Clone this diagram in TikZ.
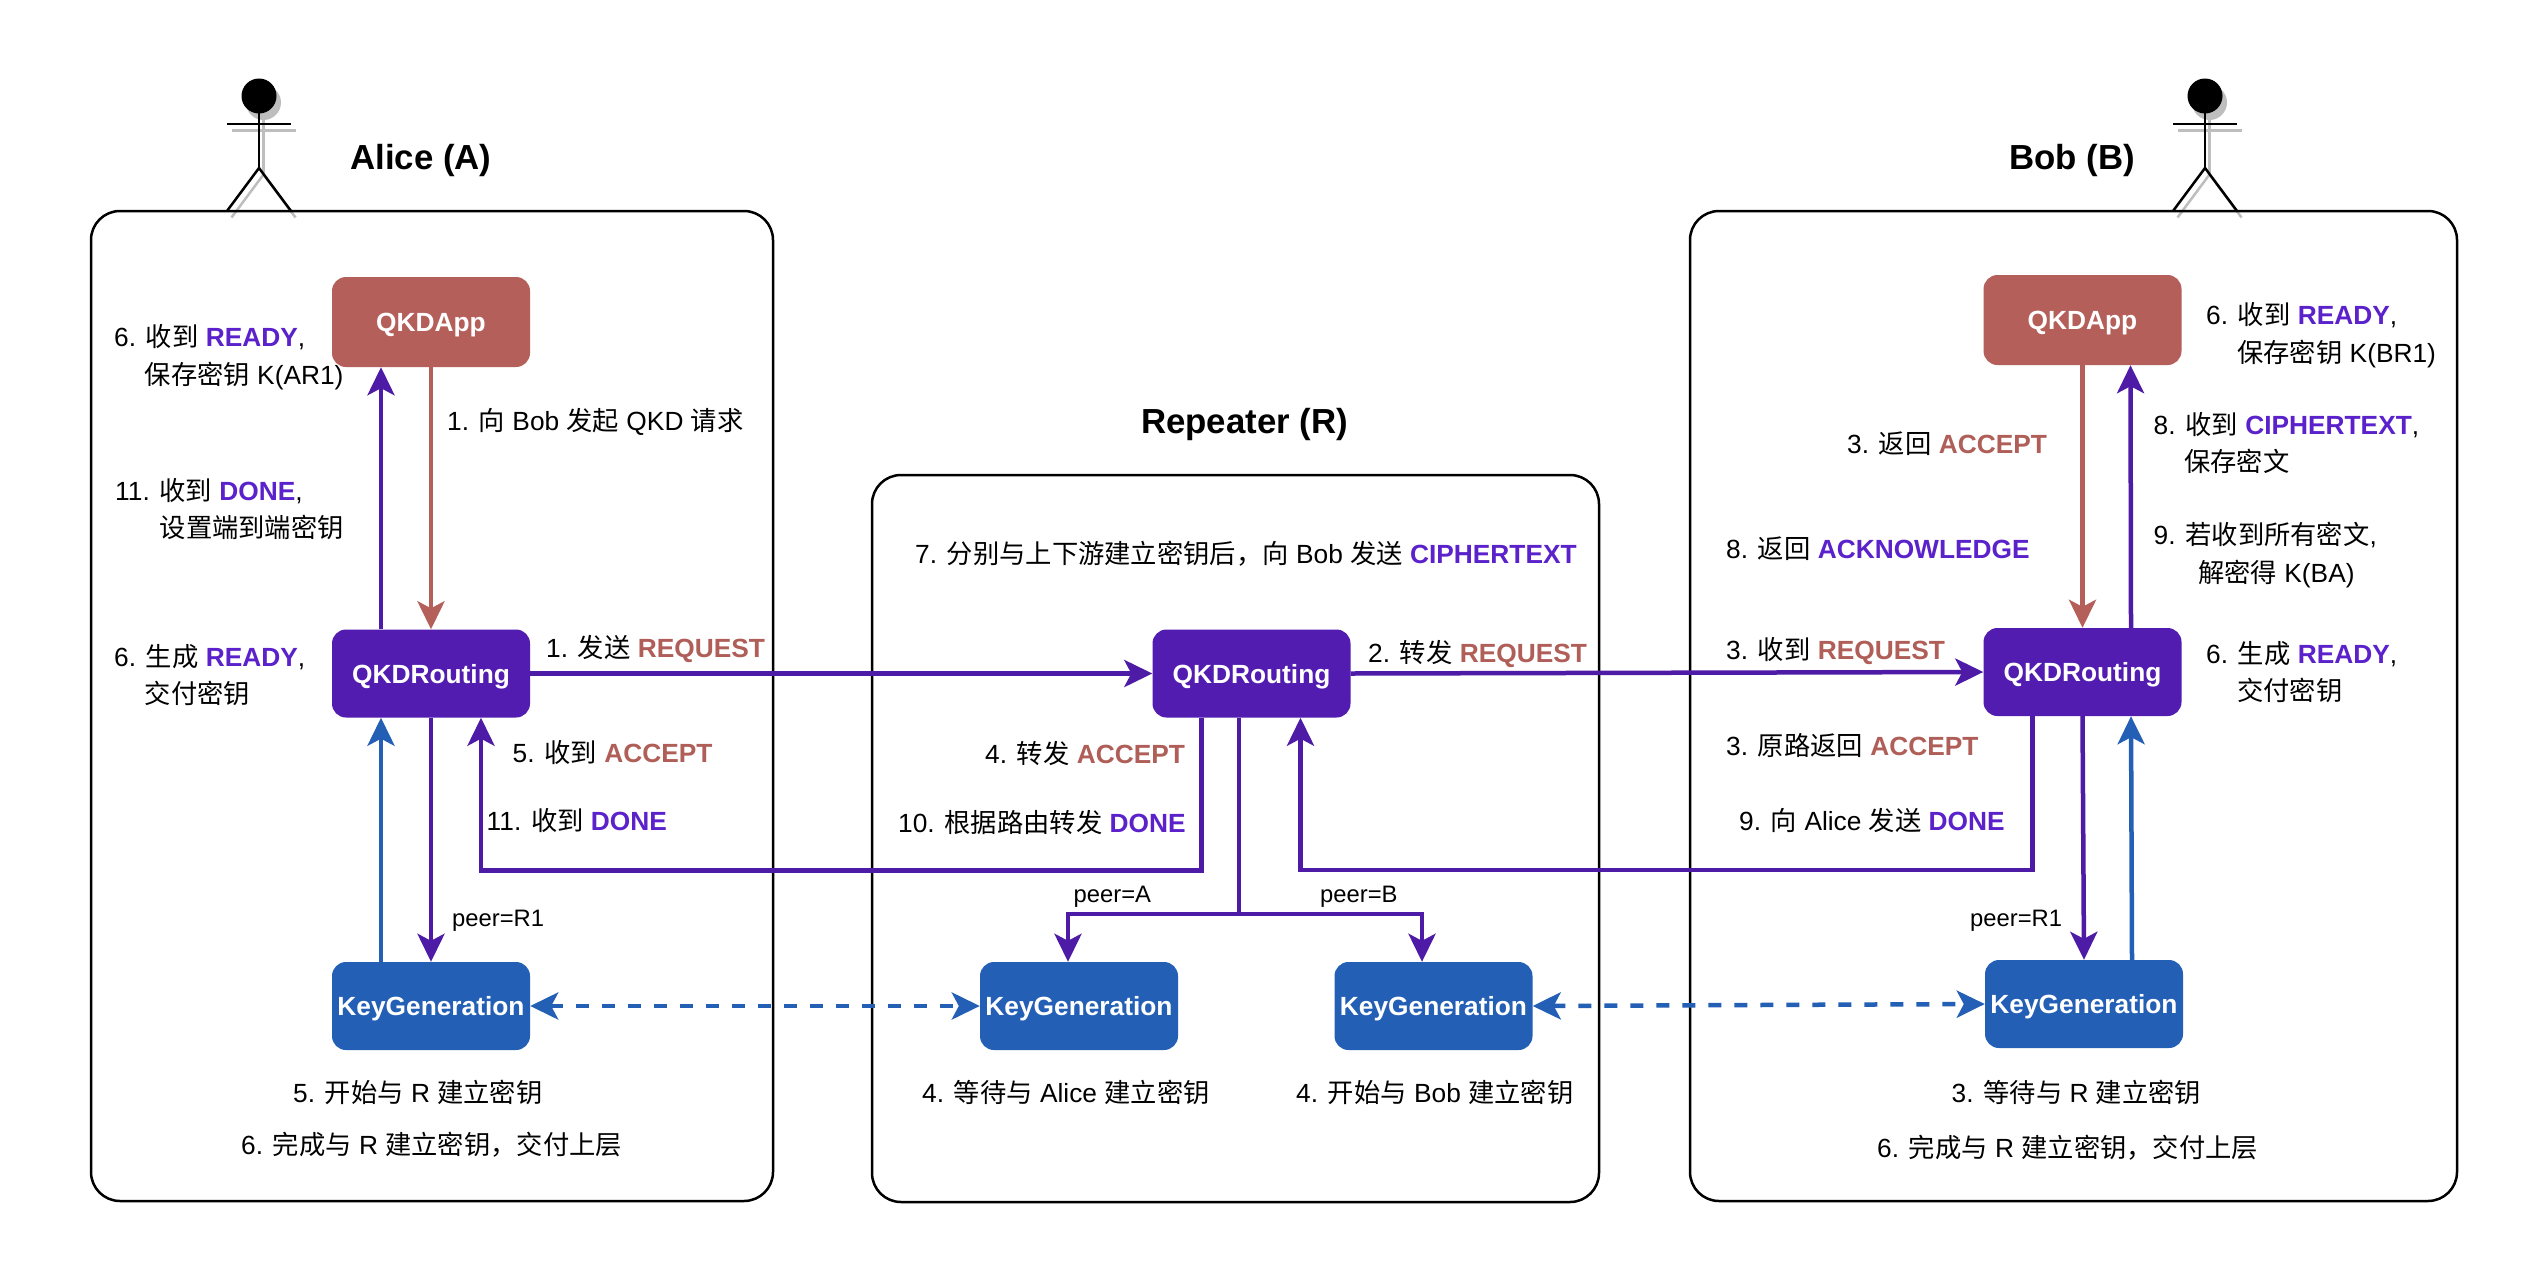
\documentclass[tikz,border=0pt]{standalone}
\usepackage{fontspec}
\setmainfont{Liberation Sans}
\newfontfamily\cjk{Noto Sans CJK SC}
\usetikzlibrary{arrows.meta}
\newcommand{\zh}[1]{{\cjk #1}}
\newcommand{\redword}[1]{\textcolor{word-red}{\textbf{#1}}}
\newcommand{\purpleword}[1]{\textcolor{word-purple}{\textbf{#1}}}
\begin{document}
\begin{tikzpicture}[x=1pt, y=-1pt, node distance=340pt]
    \definecolor{app-color}{HTML}{B55F5A}
    \definecolor{routing-color}{HTML}{521CB0}
    \definecolor{keygen-color}{HTML}{2360B5}
    \definecolor{line-purple}{HTML}{4D1BA6}
    \definecolor{word-red}{HTML}{B05E58}
    \definecolor{word-purple}{HTML}{5B22CB}
    \definecolor{shadow-color}{HTML}{BEBEBE}
    \tikzstyle{every node}=[font=\fontsize{26.3}{30}\selectfont]
    \tikzstyle{hostbox} = [rectangle, draw, line width=2.5pt, rounded corners=29pt, inner sep=0pt]
    \tikzstyle{module} = [rectangle, text=white, rounded corners=14pt, minimum width=198pt, minimum height=88pt, inner sep=0pt, text height=19pt, text depth=0pt, font=\fontsize{26.3}{30}\selectfont\bfseries]
    \tikzstyle{title} = [anchor=base west, inner sep=0pt, font=\fontsize{34.8}{40}\selectfont\bfseries]
    \tikzstyle{stepnote} = [anchor=base west, inner sep=0pt]
    \tikzstyle{peernote} = [anchor=base west, inner sep=0pt, font=\fontsize{23.8}{28}\selectfont]
    \tikzstyle{flow} = [line width=4.5pt, -{Stealth[length=28pt, width=27pt, inset=7pt]}]
    \tikzstyle{keylink} = [line width=4.5pt, keygen-color, dash pattern=on 13pt off 13pt, {Stealth[length=28pt, width=27pt, inset=7pt]}-{Stealth[length=28pt, width=27pt, inset=7pt]}]

    \path[use as bounding box, fill=white] (0,0) rectangle (2546,1280);

    % actors
    \foreach \ax in {259,2205} {
        \begin{scope}[shift={(\ax+4.5,6.5)}, shadow-color, line width=2.5pt]
            \fill (0,96) circle (17.5pt);
            \draw (-32,124) -- (32,124);
            \draw (0,113) -- (0,168);
            \draw (-32,211) -- (0,168) -- (32,211);
        \end{scope}
        \begin{scope}[shift={(\ax,0)}, line width=2.5pt]
            \fill (0,96) circle (17.5pt);
            \draw (-32,124) -- (32,124);
            \draw (0,113) -- (0,168);
            \draw (-32,211) -- (0,168) -- (32,211);
        \end{scope}
    }

    % hosts
    \node (aliceHost) [hostbox, minimum width=682pt, minimum height=990pt] at (432,706) {};
    \node (repHost) [hostbox, minimum width=727pt, minimum height=727pt] at (1235.5,838.5) {};
    \node (bobHost) [hostbox, minimum width=767pt, minimum height=990pt] at (2073.5,706) {};

    \node (aliceTitle) [title] at (350,169) {Alice (A)};
    \node (repTitle) [title] at (1141,433) {Repeater (R)};
    \node (bobTitle) [title] at (2009,169) {Bob (B)};

    % modules
    \node (aliceApp) [module, fill=app-color, minimum height=90pt] at (431,322) {QKDApp};
    \node (aliceRouting) [module, fill=routing-color, below of=aliceApp, yshift=-11.5pt] {QKDRouting};
    \node (aliceKey) [module, fill=keygen-color, below of=aliceRouting, yshift=7.5pt] {KeyGeneration};
    \node (repRouting) [module, fill=routing-color, right of=aliceRouting, xshift=480.5pt] {QKDRouting};
    \node (repKeyA) [module, fill=keygen-color, right of=aliceKey, xshift=308pt] {KeyGeneration};
    \node (repKeyB) [module, fill=keygen-color, right of=repKeyA, xshift=14.5pt] {KeyGeneration};
    \node (bobRouting) [module, fill=routing-color, right of=repRouting, xshift=491pt, yshift=1.5pt] {QKDRouting};
    \node (bobApp) [module, fill=app-color, minimum height=90pt, above of=bobRouting, yshift=12pt] {QKDApp};
    \node (bobKey) [module, fill=keygen-color, below of=bobRouting, xshift=1.5pt, yshift=8pt] {KeyGeneration};

    % connectors on the Alice side
    \draw[flow, line-purple] ([xshift=-50pt]aliceRouting.north) -- ([xshift=-50pt]aliceApp.south);
    \draw[flow, app-color] (aliceApp.south) -- (aliceRouting.north);
    \draw[flow, line-purple] (aliceRouting.south) -- (aliceKey.north);
    \draw[flow, keygen-color] ([xshift=-50pt]aliceKey.north) -- ([xshift=-50pt]aliceRouting.south);
    \draw[flow, line-purple] (aliceRouting.east) -- (repRouting.west);
    \draw[flow, line-purple] ([xshift=-50pt]repRouting.south) -- ++(0,153) -| ([xshift=50pt]aliceRouting.south);
    \draw[keylink] (aliceKey.east) -- (repKeyA.west);

    % connectors inside the repeater
    \coordinate (repFork) at ([xshift=-12.5pt,yshift=-196.5pt]repRouting.south);
    \draw[line width=4.5pt, line-purple] ([xshift=-12.5pt]repRouting.south) -- (repFork);
    \draw[flow, line-purple] (repFork) -| ([xshift=-11pt]repKeyA.north);
    \draw[flow, line-purple] (repFork) -| ([xshift=-11.5pt]repKeyB.north);

    % connectors on the Bob side
    \draw[flow, line-purple] (repRouting.east) -- (bobRouting.west);
    \draw[flow, line-purple] ([xshift=-50pt]bobRouting.south) -- ++(0,154) -| ([xshift=49pt]repRouting.south);
    \draw[flow, app-color] (bobApp.south) -- (bobRouting.north);
    \draw[flow, line-purple] ([xshift=48.5pt]bobRouting.north) -- ([xshift=48pt]bobApp.south);
    \draw[flow, line-purple] (bobRouting.south) -- (bobKey.north);
    \draw[flow, keygen-color] ([xshift=48pt]bobKey.north) -- ([xshift=48.5pt]bobRouting.south);
    \draw[keylink] (repKeyB.east) -- (bobKey.west);

    % notes for Alice
    \node (noteA1) [stepnote] at (114,346.5) {6. \zh{收到} \purpleword{READY},};
    \node (noteA2) [stepnote] at (144.5,384) {\zh{保存密钥} K(AR1)};
    \node (noteA3) [stepnote] at (447,430) {1. \zh{向} Bob \zh{发起} QKD \zh{请求}};
    \node (noteA4) [stepnote] at (115,500.5) {11. \zh{收到} \purpleword{DONE},};
    \node (noteA5) [stepnote] at (159.5,537.5) {\zh{设置端到端密钥}};
    \node (noteA6) [stepnote] at (114,666) {6. \zh{生成} \purpleword{READY},};
    \node (noteA7) [stepnote] at (144.5,703.5) {\zh{交付密钥}};
    \node (noteA8) [stepnote] at (546,657) {1. \zh{发送} \redword{REQUEST}};
    \node (noteA9) [stepnote] at (512.5,762.5) {5. \zh{收到} \redword{ACCEPT}};
    \node (noteA10) [stepnote] at (486.5,830.5) {11. \zh{收到} \purpleword{DONE}};
    \node (peerA) [peernote] at (452,926) {peer=R1};
    \node (noteA11) [stepnote] at (293,1102) {5. \zh{开始与} R \zh{建立密钥}};
    \node (noteA12) [stepnote] at (241,1154.5) {6. \zh{完成与} R \zh{建立密钥，交付上层}};

    % notes for the repeater
    \node (noteR1) [stepnote] at (915,563.5) {7. \zh{分别与上下游建立密钥后，向} Bob \zh{发送} \purpleword{CIPHERTEXT}};
    \node (noteR2) [stepnote] at (1368,662) {2. \zh{转发} \redword{REQUEST}};
    \node (noteR3) [stepnote] at (985,763) {4. \zh{转发} \redword{ACCEPT}};
    \node (noteR4) [stepnote] at (898,832.5) {10. \zh{根据路由转发} \purpleword{DONE}};
    \node (peerRA) [peernote] at (1073.5,902) {peer=A};
    \node (peerRB) [peernote] at (1320,902) {peer=B};
    \node (noteR5) [stepnote] at (922,1102.5) {4. \zh{等待与} Alice \zh{建立密钥}};
    \node (noteR6) [stepnote] at (1296,1102.5) {4. \zh{开始与} Bob \zh{建立密钥}};

    % notes for Bob
    \node (noteB1) [stepnote] at (2206,324) {6. \zh{收到} \purpleword{READY},};
    \node (noteB2) [stepnote] at (2237,362.5) {\zh{保存密钥} K(BR1)};
    \node (noteB3) [stepnote] at (1847,453.5) {3. \zh{返回} \redword{ACCEPT}};
    \node (noteB4) [stepnote] at (2153.5,434) {8. \zh{收到} \purpleword{CIPHERTEXT},};
    \node (noteB5) [stepnote] at (2184,471.5) {\zh{保存密文}};
    \node (noteB6) [stepnote] at (1726,558) {8. \zh{返回} \purpleword{ACKNOWLEDGE}};
    \node (noteB7) [stepnote] at (2153.5,544) {9. \zh{若收到所有密文},};
    \node (noteB8) [stepnote] at (2198,582) {\zh{解密得} K(BA)};
    \node (noteB9) [stepnote] at (1726,659.5) {3. \zh{收到} \redword{REQUEST}};
    \node (noteB10) [stepnote] at (2206,663.5) {6. \zh{生成} \purpleword{READY},};
    \node (noteB11) [stepnote] at (2237,700) {\zh{交付密钥}};
    \node (noteB12) [stepnote] at (1726,755.5) {3. \zh{原路返回} \redword{ACCEPT}};
    \node (noteB13) [stepnote] at (1739,830.5) {9. \zh{向} Alice \zh{发送} \purpleword{DONE}};
    \node (peerB) [peernote] at (1970,926) {peer=R1};
    \node (noteB14) [stepnote] at (1951.5,1102) {3. \zh{等待与} R \zh{建立密钥}};
    \node (noteB15) [stepnote] at (1877,1157.5) {6. \zh{完成与} R \zh{建立密钥，交付上层}};
\end{tikzpicture}
\end{document}
